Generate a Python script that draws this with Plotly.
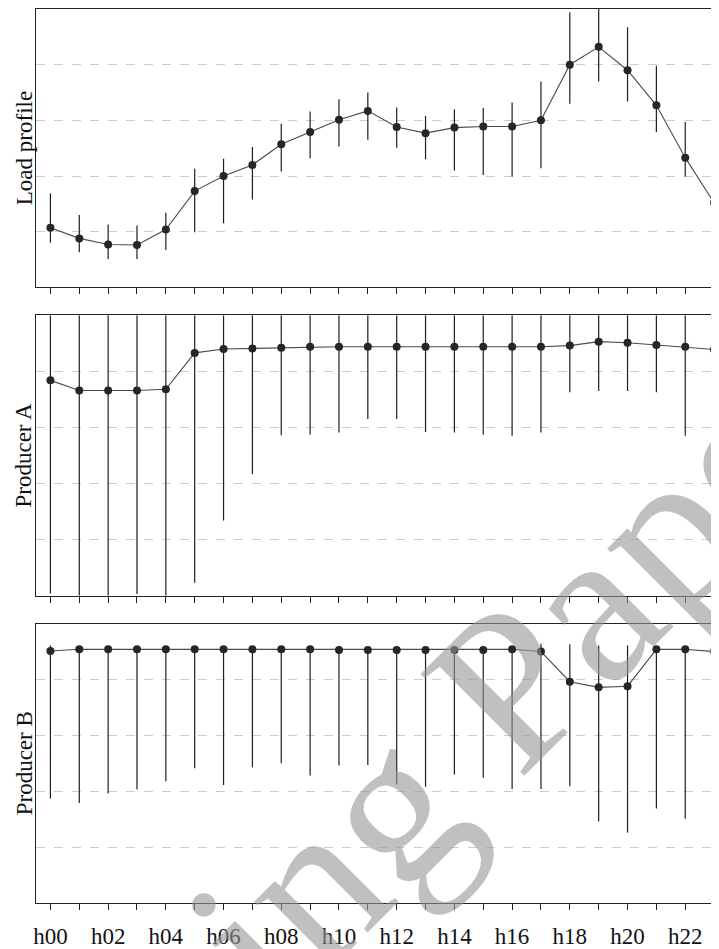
import plotly.graph_objects as go

hour_labels = ["h00", "h01", "h02", "h03", "h04", "h05", "h06", "h07", "h08", "h09", "h10", "h11",
               "h12", "h13", "h14", "h15", "h16", "h17", "h18", "h19", "h20", "h21", "h22", "h23"]
tick_text = ["h00", "", "h02", "", "h04", "", "h06", "", "h08", "", "h10", "",
             "h12", "", "h14", "", "h16", "", "h18", "", "h20", "", "h22", ""]

panel_titles = ["Load profile", "Producer A", "Producer B"]

load_mean = [1.07, 0.88, 0.77, 0.76, 1.04, 1.73, 2.00, 2.20, 2.57, 2.79, 3.01, 3.17,
             2.88, 2.77, 2.87, 2.89, 2.89, 3.00, 4.00, 4.32, 3.90, 3.27, 2.33, 1.52]
load_hi = [1.69, 1.30, 1.13, 1.11, 1.34, 2.13, 2.31, 2.52, 2.94, 3.16, 3.38, 3.50,
           3.23, 3.08, 3.20, 3.22, 3.32, 3.70, 4.94, 5.00, 4.67, 3.98, 2.97, 2.06]
load_lo = [0.80, 0.63, 0.51, 0.51, 0.67, 0.99, 1.15, 1.58, 2.08, 2.32, 2.53, 2.65,
           2.51, 2.30, 2.10, 2.02, 1.99, 2.14, 3.30, 3.70, 3.34, 2.79, 1.99, 1.20]

prodA_mean = [3.84, 3.66, 3.66, 3.66, 3.68, 4.33, 4.40, 4.41, 4.42, 4.44, 4.44, 4.44,
              4.44, 4.44, 4.44, 4.44, 4.44, 4.44, 4.46, 4.53, 4.51, 4.47, 4.44, 4.39]
prodA_hi = [5.0, 5.0, 5.0, 5.0, 5.0, 5.0, 5.0, 5.0, 5.0, 5.0, 5.0, 5.0,
            5.0, 5.0, 5.0, 5.0, 5.0, 5.0, 5.0, 5.0, 5.0, 5.0, 5.0, 5.0]
prodA_lo = [0.04, 0.0, 0.0, 0.03, 0.0, 0.23, 1.34, 2.17, 2.86, 2.87, 2.91, 3.15,
            3.15, 2.92, 2.91, 2.87, 2.85, 2.91, 3.63, 3.65, 3.65, 3.63, 2.85, 1.25]

prodB_mean = [4.51, 4.54, 4.54, 4.54, 4.54, 4.54, 4.54, 4.54, 4.54, 4.54, 4.53, 4.53,
              4.53, 4.53, 4.53, 4.53, 4.54, 4.50, 3.96, 3.86, 3.88, 4.54, 4.54, 4.50]
prodB_hi = [4.61, 4.60, 4.60, 4.60, 4.60, 4.60, 4.60, 4.60, 4.60, 4.60, 4.60, 4.60,
            4.60, 4.60, 4.60, 4.60, 4.60, 4.64, 4.63, 4.61, 4.61, 4.60, 4.60, 4.59]
prodB_lo = [1.87, 1.79, 1.96, 2.03, 2.18, 2.41, 2.11, 2.43, 2.50, 2.28, 2.46, 2.47,
            2.12, 2.08, 2.30, 2.24, 2.04, 2.04, 2.09, 1.46, 1.26, 1.69, 1.51, 1.70]

series = [(load_mean, load_hi, load_lo), (prodA_mean, prodA_hi, prodA_lo), (prodB_mean, prodB_hi, prodB_lo)]

# page has an 8px body margin; figure sized so it fits the 719x949 window
OFF = 8
W, H = 719 - OFF, 949 - OFF
ML, MR, MT, MB = 36 - OFF, 0, 0, 45
plot_h = H - MT - MB


def py2paper(py):
    # py: screen pixel
    return (H - MB - (py - OFF)) / plot_h


def px2paper(px):
    return (px - OFF - ML) / (W - ML - MR)


panel_px = [(8, 287), (315, 596), (624, 904)]
x_idx = list(range(len(hour_labels)))

fig = go.Figure()
FONT = "Liberation Serif"

for i, (mean, hi, lo) in enumerate(series):
    n = "" if i == 0 else str(i + 1)
    fig.add_trace(go.Scatter(
        x=x_idx, y=mean, mode="lines+markers",
        xaxis="x" + n, yaxis="y" + n,
        line=dict(color="#4a4a4a", width=1.1),
        marker=dict(color="#262626", size=8),
        error_y=dict(type="data", symmetric=False,
                     array=[h - m for h, m in zip(hi, mean)],
                     arrayminus=[m - l for m, l in zip(mean, lo)],
                     color="#1e1e1e", thickness=1.2, width=0),
        showlegend=False, hoverinfo="skip",
    ))
    top, bot = panel_px[i]
    fig.layout["xaxis" + n] = dict(
        domain=[0, 1], anchor="y" + n, range=[-0.5, 23.17],
        tickvals=x_idx, ticktext=tick_text, showticklabels=(i == 2),
        ticks="outside", ticklen=6, tickwidth=1, tickcolor="#222",
        ticklabelstandoff=6,
        showline=True, linecolor="#222", linewidth=1, mirror=True,
        showgrid=False, zeroline=False,
        tickfont=dict(family=FONT, size=23, color="#111"),
    )
    fig.layout["yaxis" + n] = dict(
        domain=[max(0.0, py2paper(bot)), min(1.0, py2paper(top))], anchor="x" + n, range=[0, 5],
        tickvals=[1, 2, 3, 4], showticklabels=False, ticks="",
        showline=True, linecolor="#222", linewidth=1, mirror=False,
        showgrid=True, gridcolor="#cccccc", gridwidth=1, griddash="dash",
        zeroline=False,
    )
    fig.add_annotation(
        text=panel_titles[i], xref="paper", yref="paper",
        x=px2paper(24), y=py2paper((top + bot) / 2),
        xanchor="center", yanchor="middle", textangle=-90, showarrow=False,
        font=dict(family=FONT, size=23, color="#111"),
    )

# watermark
fig.add_annotation(
    text="Working Paper", xref="paper", yref="paper",
    x=px2paper(352), y=py2paper(843), xanchor="center", yanchor="middle",
    textangle=-45, showarrow=False,
    font=dict(family=FONT, size=222, color="rgba(150,150,150,0.6)"),
)

fig.update_layout(
    width=W, height=H,
    margin=dict(l=ML, r=MR, t=MT, b=MB),
    paper_bgcolor="white", plot_bgcolor="white",
)

fig.write_html("out.html")
